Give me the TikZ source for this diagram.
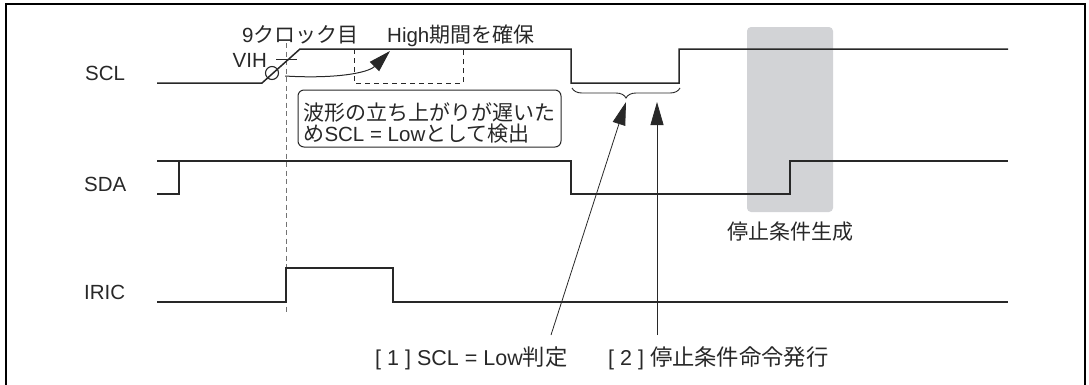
\documentclass[tikz,border=0pt]{standalone}
\usepackage{fontspec}
\setmainfont{Liberation Sans}
\newfontfamily\jp{Noto Sans CJK JP}
\usetikzlibrary{arrows.meta,decorations.pathreplacing}
\newcommand\J[1]{{\jp\fontsize{21}{22}\selectfont #1}}
\newcommand\JB[1]{{\jp\fontsize{22.3}{24}\selectfont #1}}
\definecolor{stopgray}{RGB}{210,211,214}
\definecolor{sigcol}{RGB}{40,40,40}
\begin{document}
\begin{tikzpicture}[x=1pt,y=-1pt,
  sig/.style={line width=1.5pt, draw=sigcol, line join=miter},
  lbl/.style={font=\fontsize{20.5}{22}\selectfont, inner sep=0pt, text=sigcol},
  biglbl/.style={font=\fontsize{21.5}{24}\selectfont, inner sep=0pt, text=sigcol},
  guide/.style={draw=black!55, line width=1pt, dash pattern=on 5pt off 3.5pt},
  boxdash/.style={draw=sigcol, line width=1pt, dash pattern=on 5pt off 4pt},
  ptr/.style={draw=sigcol, line width=0.8pt, -{Triangle[length=23pt,width=13pt]}},
  thin/.style={draw=sigcol, line width=1pt}]
\useasboundingbox (0,0) rectangle (1089,384);
% frame
\draw[line width=2.2pt] (6,392) -- (6,4.3) -- (1085,4.3) -- (1085,392);
% gray stop-condition region
\fill[stopgray, rounded corners=4pt] (747,27) rectangle (833,212);
% dashed guides
\draw[guide] (286,43) -- (286,312);
\draw[boxdash] (354,49) rectangle (463,83);
% signals
\draw[sig] (157,83) -- (262,83) -- (300,49) -- (571,49) -- (571,83) -- (679,83) -- (679,49) -- (1008,49);
\draw[sig] (157,161) -- (571,161) -- (571,194) -- (790,194) -- (790,161) -- (1008,161);
\draw[sig] (157,194) -- (179,194) -- (179,161);
\draw[sig] (157,302) -- (286,302) -- (286,268) -- (393,268) -- (393,302) -- (1008,302);
% signal labels
\node[lbl, anchor=base west] (nscl) at (85,80) {SCL};
\node[lbl, anchor=base west] (nsda) at (84,191.5) {SDA};
\node[lbl, anchor=base west] (niric) at (84,299) {IRIC};
% VIH mark
\node[lbl, anchor=base east] (nvih) at (267,67) {VIH};
\draw[thin] (276,59) -- (297,59);
\node[circle, draw=sigcol, line width=1.1pt, minimum size=13pt, inner sep=0pt] (vc) at (272,73) {};
\coordinate (hightip) at (390,51);
\draw[thin, -{Triangle[length=22pt,width=13pt]}] ([xshift=6pt,yshift=-3pt]vc.east) .. controls (335,79) and (368,73) .. (hightip);
% top texts
\node[lbl, anchor=base west] (nclk) at (242,42) {9\J{クロック目}};
\node[lbl, anchor=base west] (nhigh) at (387,42) {High\J{期間を確保}};
% comment box
\node[lbl, draw=sigcol, line width=1pt, rounded corners=6pt, align=left,
      minimum width=263pt, minimum height=57pt, inner xsep=4pt] (nbox) at (429.5,118.5)
  {\rule{0pt}{27pt}\J{波形の立ち上がりが遅いた}\\[-1pt]\J{め}SCL = Low\J{として検出}};
% brace
\draw[thin, line width=0.9pt, decorate, decoration={brace, amplitude=10pt, mirror}] (572,88) -- (680,88);
\coordinate (bracetip) at (626,102);
% stop condition label
\node[lbl, anchor=base] (nstop) at (790,239) {\J{停止条件生成}};
% bottom labels
\node[biglbl, anchor=base west] (lab1) at (375,365) {[ 1 ] SCL = Low\JB{判定}};
\node[biglbl, anchor=base west] (lab2) at (608,365) {[ 2 ] \JB{停止条件命令発行}};
\coordinate (a1s) at (551,335);
\coordinate (a2s) at (657,335);
\coordinate (a2e) at (657,102);
\draw[ptr] (a1s) -- (bracetip);
\draw[ptr] (a2s) -- (a2e);
\end{tikzpicture}
\end{document}
